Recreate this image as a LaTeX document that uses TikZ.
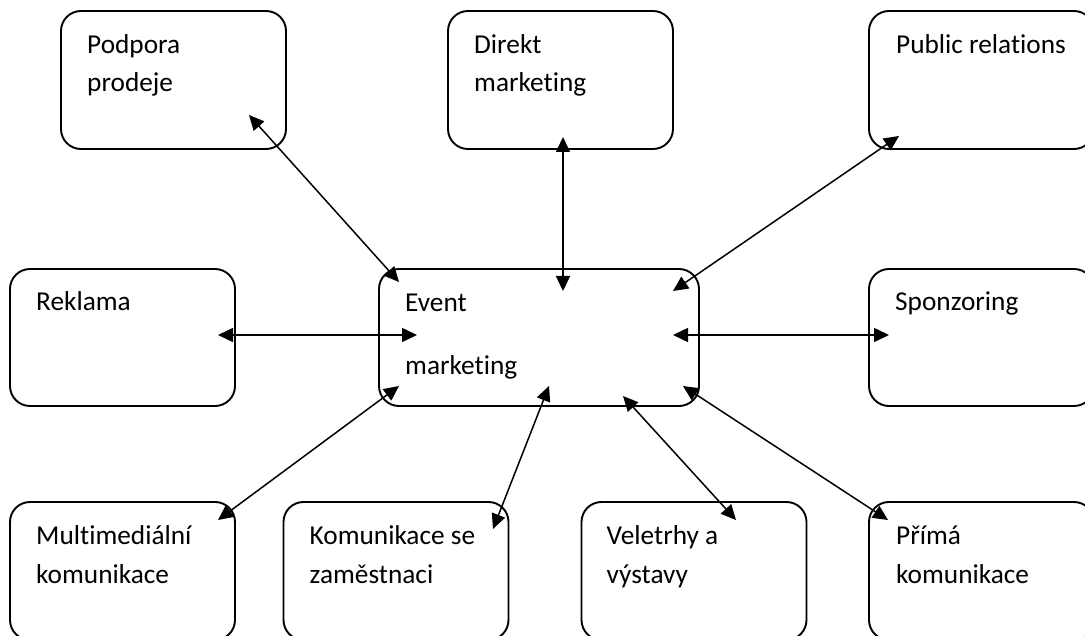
\documentclass[tikz,border=0pt]{standalone}
\usepackage{fontspec}
\setmainfont{Carlito}[Ligatures={NoCommon}]
\usetikzlibrary{arrows.meta}
\tikzset{
  card/.style={draw=black, line width=1.9pt, rounded corners=20pt,
    minimum width=225pt, minimum height=138pt, inner sep=0pt, outer sep=0pt},
  caption/.style={anchor=base west, inner sep=0pt,
    font=\fontsize{27.3}{33}\selectfont, text=black},
  link/.style={line width=1.5pt,
    {Triangle[length=15pt,width=14pt]}-{Triangle[length=15pt,width=14pt]}},
}
\begin{document}
\begin{tikzpicture}[x=1pt,y=-1pt]
\fill[white] (0,0) rectangle (1085,636);
\useasboundingbox (0,0) rectangle (1085,636);

% boxes
\node[card] (podpora) at (173.5,80) {};
\node[card] (direkt) at (560.5,80) {};
\node[card] (public) at (981.5,80) {};
\node[card, minimum height=137pt] (reklama) at (122.5,337.5) {};
\node[card, minimum width=320pt, minimum height=137pt] (event) at (539,337.5) {};
\node[card, minimum height=137pt] (sponzoring) at (981.5,337.5) {};
\node[card] (multimedia) at (122.5,571) {};
\node[card] (zamestnanci) at (396,571) {};
\node[card] (veletrhy) at (694,571) {};
\node[card] (prima) at (981.5,571) {};

% captions
\node[caption] (podpora-a) at ([shift={(26,43)}]podpora.north west) {Podpora};
\node[caption] (podpora-b) at ([shift={(26,81)}]podpora.north west) {prodeje};
\node[caption] (direkt-a) at ([shift={(26,43)}]direkt.north west) {Direkt};
\node[caption] (direkt-b) at ([shift={(26,81)}]direkt.north west) {marketing};
\node[caption] (public-a) at ([shift={(27,43)}]public.north west) {Public relations};
\node[caption] (reklama-a) at ([shift={(26,42)}]reklama.north west) {Reklama};
\node[caption] (event-a) at ([shift={(26,43)}]event.north west) {Event};
\node[caption] (event-b) at ([shift={(26,105)}]event.north west) {marketing};
\node[caption] (sponzoring-a) at ([shift={(26,42)}]sponzoring.north west) {Sponzoring};
\node[caption] (multimedia-a) at ([shift={(26,42)}]multimedia.north west) {Multimediální};
\node[caption] (multimedia-b) at ([shift={(26,81)}]multimedia.north west) {komunikace};
\node[caption] (zamestnanci-a) at ([shift={(26,42)}]zamestnanci.north west) {Komunikace se};
\node[caption] (zamestnanci-b) at ([shift={(26,81)}]zamestnanci.north west) {zaměstnaci};
\node[caption] (veletrhy-a) at ([shift={(25,42)}]veletrhy.north west) {Veletrhy a};
\node[caption] (veletrhy-b) at ([shift={(25,81)}]veletrhy.north west) {výstavy};
\node[caption] (prima-a) at ([shift={(27,42)}]prima.north west) {Přímá};
\node[caption] (prima-b) at ([shift={(27,81)}]prima.north west) {komunikace};

% arrow ends inside the boxes
\coordinate (podpora-tip) at ([shift={(-37,-34)}]podpora.south east);
\coordinate (event-tip1) at ([shift={(20,13)}]event.north west);
\coordinate (direkt-tip) at ([shift={(2.5,-12)}]direkt.south);
\coordinate (event-tip2) at ([shift={(24,22)}]event.north);
\coordinate (public-tip) at ([shift={(30,-13)}]public.south west);
\coordinate (event-tip3) at ([shift={(-26,22)}]event.north east);
\coordinate (reklama-tip) at ([shift={(-17,-2.5)}]reklama.east);
\coordinate (event-tip4) at ([shift={(38,-2.5)}]event.west);
\coordinate (sponzoring-tip) at ([shift={(20,-2.5)}]sponzoring.west);
\coordinate (event-tip5) at ([shift={(-26,-2.5)}]event.east);
\coordinate (multimedia-tip) at ([shift={(-17,18)}]multimedia.north east);
\coordinate (event-tip6) at ([shift={(20,-20)}]event.south west);
\coordinate (zamestnanci-tip) at ([shift={(-15.5,27)}]zamestnanci.north east);
\coordinate (event-tip7) at ([shift={(10,-20)}]event.south);
\coordinate (veletrhy-tip) at ([shift={(42,18)}]veletrhy.north);
\coordinate (event-tip8) at ([shift={(84,-10)}]event.south);
\coordinate (prima-tip) at ([shift={(19,18)}]prima.north west);
\coordinate (event-tip9) at ([shift={(-16,-20)}]event.south east);

% two-way links
\draw[link] (podpora-tip) -- (event-tip1);
\draw[link] (direkt-tip) -- (event-tip2);
\draw[link] (public-tip) -- (event-tip3);
\draw[link] (reklama-tip) -- (event-tip4);
\draw[link] (sponzoring-tip) -- (event-tip5);
\draw[link] (multimedia-tip) -- (event-tip6);
\draw[link] (zamestnanci-tip) -- (event-tip7);
\draw[link] (veletrhy-tip) -- (event-tip8);
\draw[link] (prima-tip) -- (event-tip9);
\end{tikzpicture}
\end{document}
